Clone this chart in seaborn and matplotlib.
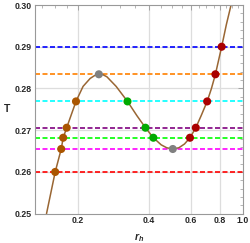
import matplotlib
matplotlib.use('Agg')
import matplotlib.pyplot as plt
import matplotlib.ticker as mticker
import pandas as pd
import seaborn as sns

# curva T(r_h)
curva_r = [0.147, 0.160, 0.1697, 0.173, 0.179, 0.196, 0.21, 0.225, 0.235, 0.245, 0.255, 0.265, 0.29,
           0.324, 0.355, 0.386, 0.417, 0.45, 0.475, 0.504, 0.535, 0.565, 0.596, 0.631,
           0.665, 0.705, 0.735, 0.764, 0.812, 0.85, 0.89]
curva_T = [0.250, 0.260, 0.2655, 0.2682, 0.2706, 0.2769, 0.2805, 0.2824, 0.2831, 0.2834, 0.2833, 0.2828, 0.2805,
           0.2769, 0.2735, 0.2706, 0.2682, 0.2665, 0.2658, 0.2655, 0.2658, 0.2667, 0.2682, 0.2706,
           0.2735, 0.2769, 0.2800, 0.2834, 0.290, 0.2953, 0.300]

# lineas horizontales (temperaturas)
lineas_T = [0.290, 0.2834, 0.2769, 0.2706, 0.2682, 0.2655, 0.260]
lineas_color = ['#0000FF', '#FF8000', '#00FFFF', '#800080', '#00FF00', '#FF00FF', '#FF0000']

# puntos de interseccion
puntos_r = [0.160, 0.1697, 0.173, 0.179, 0.196,
            0.245, 0.504,
            0.324, 0.386, 0.417,
            0.596, 0.631, 0.705, 0.764, 0.812]
puntos_T = [0.260, 0.2655, 0.2682, 0.2706, 0.2769,
            0.2834, 0.2655,
            0.2769, 0.2706, 0.2682,
            0.2682, 0.2706, 0.2769, 0.2834, 0.290]
puntos_rama = ['pequena'] * 5 + ['extremo'] * 2 + ['intermedia'] * 3 + ['grande'] * 5
colores_rama = {'pequena': '#AA5500', 'extremo': '#808080',
                'intermedia': '#00AA00', 'grande': '#AA0000'}

sns.set_style('white')
plt.rcParams['font.family'] = ['Liberation Sans', 'DejaVu Sans']
plt.rcParams['mathtext.fontset'] = 'custom'
plt.rcParams['mathtext.it'] = 'Liberation Sans:italic:bold'
plt.rcParams['mathtext.rm'] = 'Liberation Sans:bold'

fig = plt.figure(figsize=(2.5, 2.43), dpi=100)
ax = fig.add_axes([0.1388, 0.1206, 0.972 - 0.1388, 0.9794 - 0.1206])
ax.set_xscale('log')

for x in [0.2, 0.4, 0.6, 0.8]:
    ax.axvline(x, color='#DDDDDD', lw=0.9, zorder=0)
for y in [0.26, 0.27, 0.28, 0.29]:
    ax.axhline(y, color='#DDDDDD', lw=0.9, zorder=0)

for t, c in zip(lineas_T, lineas_color):
    ax.axhline(t, color=c, lw=1.2, ls=(0, (3, 1.5)), zorder=1)

df_curva = pd.DataFrame({'r': curva_r, 'T': curva_T})
sns.lineplot(data=df_curva, x='r', y='T', sort=False, color='#996633', lw=1.1, ax=ax, zorder=2)

df_puntos = pd.DataFrame({'r': puntos_r, 'T': puntos_T, 'rama': puntos_rama})
sns.scatterplot(data=df_puntos, x='r', y='T', hue='rama', palette=colores_rama,
                s=34, edgecolor='none', legend=False, ax=ax, zorder=3)

ax.set_xlim(0.131, 1.0)
ax.set_ylim(0.25, 0.30)
ax.xaxis.set_major_locator(mticker.FixedLocator([0.2, 0.4, 0.6, 0.8, 1.0]))
ax.xaxis.set_major_formatter(mticker.FixedFormatter(['0.2', '0.4', '0.6', '0.8', '1.0']))
ax.xaxis.set_minor_locator(mticker.FixedLocator([0.14, 0.16, 0.18, 0.25, 0.3, 0.35, 0.45, 0.5, 0.55,
                                                 0.65, 0.7, 0.75, 0.85, 0.9, 0.95]))
ax.xaxis.set_minor_formatter(mticker.NullFormatter())
ax.yaxis.set_major_locator(mticker.MultipleLocator(0.01))
ax.yaxis.set_minor_locator(mticker.MultipleLocator(0.002))
ax.yaxis.set_major_formatter(mticker.FormatStrFormatter('%.2f'))

ax.tick_params(which='both', direction='in', top=True, right=True, color='#999999')
ax.tick_params(which='major', length=3.5, width=0.6, labelsize=6.3, pad=2)
ax.tick_params(which='minor', length=2, width=0.5)
for lab in ax.get_xticklabels() + ax.get_yticklabels():
    lab.set_fontweight('bold')
for s in ax.spines.values():
    s.set_color('#999999')
    s.set_linewidth(0.8)

ax.set_xlabel(r'$r_h$', fontsize=7.5, labelpad=4)
ax.set_ylabel('T', fontsize=7.5, fontweight='bold', rotation=0, ha='center', va='center')
ax.yaxis.set_label_coords(-0.135, 0.5)

fig.savefig('out.png', dpi=100)
